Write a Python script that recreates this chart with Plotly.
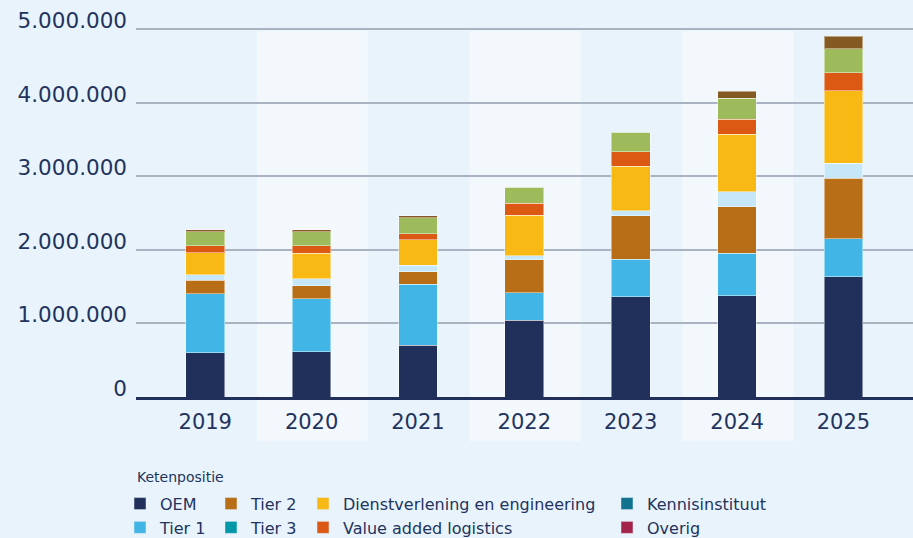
import plotly.graph_objects as go

years = ["2019", "2020", "2021", "2022", "2023", "2024", "2025"]

oem = [602000, 615000, 701000, 1041000, 1367000, 1376000, 1639000]
tier1 = [806000, 720000, 834000, 376000, 508000, 580000, 512000]
tier2 = [182000, 181000, 172000, 448000, 588000, 633000, 825000]
tier3 = [72000, 91000, 86000, 54000, 68000, 200000, 204000]
dienst = [303000, 349000, 344000, 557000, 611000, 784000, 986000]
val_log = [95000, 103000, 86000, 163000, 194000, 208000, 245000]
kennis = [190000, 190000, 217000, 213000, 264000, 281000, 326000]
overig = [23000, 23000, 23000, 0, 0, 95000, 168000]

ytick_vals = [0, 1000000, 2000000, 3000000, 4000000, 5000000]
ytick_text = ["0", "1.000.000", "2.000.000", "3.000.000", "4.000.000", "5.000.000"]

series_names = ["OEM", "Tier 1", "Tier 2", "Tier 3", "Dienstverlening en engineering",
                "Value added logistics", "Kennisinstituut", "Overig"]
series_values = [oem, tier1, tier2, tier3, dienst, val_log, kennis, overig]
bar_colors = ["#21305b", "#41b6e6", "#b86e17", "#c6e7f8", "#f9b914", "#dc5914", "#9dbb5a", "#855a22"]
legend_colors = ["#21305b", "#41b6e6", "#b86e17", "#0098a8", "#f9b914", "#dc5914", "#12738f", "#a3234a"]
legend_ids = ["legend", "legend", "legend2", "legend2", "legend3", "legend3", "legend4", "legend4"]

NAVY = "#22335e"
FONT = "DejaVu Sans"
BG = "#e9f3fc"
BAND = "#f3f8fd"

fig = go.Figure()
for name, vals, col in zip(series_names, series_values, bar_colors):
    fig.add_trace(go.Bar(
        x=years, y=vals, name=name, showlegend=False,
        marker=dict(color=col, line=dict(color="rgba(255,255,255,0.45)", width=1)),
    ))

# legend entries
for name, col, lg in zip(series_names, legend_colors, legend_ids):
    fig.add_trace(go.Bar(x=[None], y=[None], name=name, legend=lg,
                         marker=dict(color=col), showlegend=True))

# lighter column bands
for i, yr in enumerate(years):
    if i % 2 == 1:
        fig.add_shape(type="rect", xref="x", yref="paper",
                      x0=i - 0.515, x1=i + 0.53, y0=-0.120, y1=0.992,
                      fillcolor=BAND, line=dict(width=0), layer="below")

leg_common = dict(orientation="v", yanchor="top", xanchor="left", traceorder="normal",
                  font=dict(family=FONT, size=16, color=NAVY),
                  bgcolor="rgba(0,0,0,0)", borderwidth=0, tracegroupgap=0)
W = 777.0
def px2x(p):
    return (p - 136) / W

leg_y = -0.243
fig.update_layout(
    width=913, height=538,
    margin=dict(l=136, r=0, t=27.5, b=141, autoexpand=False),
    paper_bgcolor=BG, plot_bgcolor=BG,
    barmode="stack", bargap=0.636,
    font=dict(family=FONT, color=NAVY),
    legend=dict(x=px2x(120), y=leg_y, **leg_common),
    legend2=dict(x=px2x(211), y=leg_y, **leg_common),
    legend3=dict(x=px2x(303), y=leg_y, **leg_common),
    legend4=dict(x=px2x(607), y=leg_y, **leg_common),
    xaxis=dict(type="category", range=[-0.651, 6.654], showgrid=False,
               showline=True, linecolor="#21305b", linewidth=3, automargin=False,
               tickfont=dict(family=FONT, size=21, color=NAVY),
               ticks="", ticklabelstandoff=4),
    yaxis=dict(range=[0, 5020000], tickvals=ytick_vals, ticktext=ytick_text,
               showgrid=True, gridcolor="#aab3c1", gridwidth=2, zeroline=False,
               automargin=False,
               tickfont=dict(family=FONT, size=21.5, color=NAVY),
               ticklabelposition="outside", ticklabelshift=-9, ticks="", ticklabelstandoff=8),
    annotations=[dict(text="Ketenpositie", xref="paper", yref="paper",
                      x=px2x(135), y=-0.218, xanchor="left", yanchor="middle",
                      showarrow=False, font=dict(family=FONT, size=14, color=NAVY))],
)

fig.write_html("out.html", config={"displayModeBar": False},
               post_script="document.body.style.margin='0';document.body.style.background='%s';" % BG)
